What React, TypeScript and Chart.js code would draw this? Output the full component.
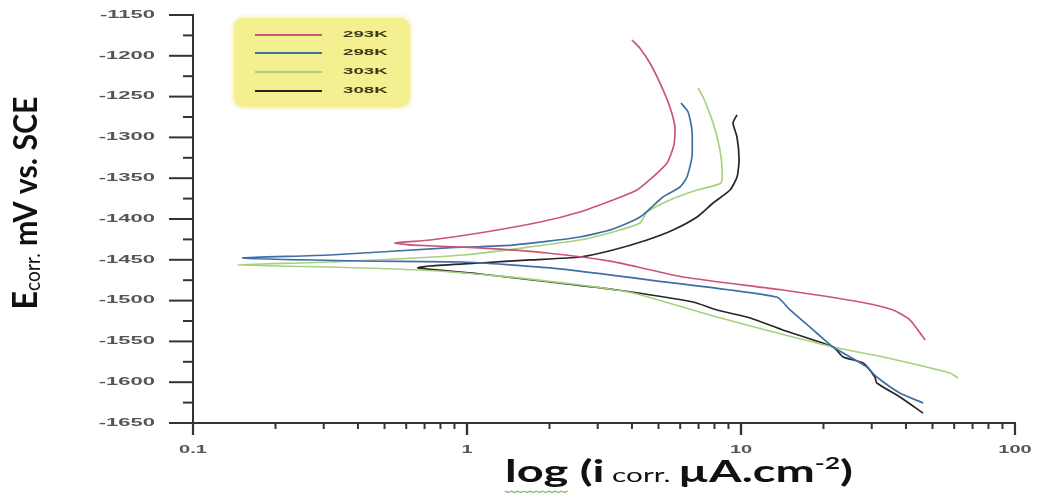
import React, { useEffect, useRef } from "react";
import { Chart, registerables } from "chart.js";

Chart.register(...registerables);

// Potentiodynamic polarization curves: current density (µA/cm²) vs. potential (mV vs. SCE)
const seriesNames = ["293K", "298K", "303K", "308K"];
const seriesColors = ["#cc5479", "#3f6fa3", "#a6d27f", "#262626"];

const i293 = [4.0, 4.27, 4.65, 5.06, 5.5, 5.74, 5.69, 5.37, 4.77, 4.17, 3.41, 2.58, 1.85, 1.11, 0.733, 0.546, 0.635, 1.11, 1.96, 3.41, 6.14, 14.2, 27.2, 35.9, 41.4, 47.0];
const e293 = [-1180.6, -1190.4, -1208.8, -1233.3, -1262.7, -1287.3, -1309.3, -1331.4, -1348.5, -1364.5, -1376.7, -1391.4, -1403.7, -1417.2, -1425.7, -1429.4, -1431.9, -1435.5, -1441.7, -1452.3, -1471.1, -1487.0, -1501.7, -1511.5, -1523.8, -1548.3];

const i298 = [6.04, 6.41, 6.62, 6.62, 6.35, 5.99, 5.19, 4.28, 3.41, 2.585, 1.472, 0.845, 0.316, 0.152, 0.417, 0.966, 2.01, 4.66, 13.5, 15.1, 18.9, 21.7, 28.8, 31.3, 38.0, 46.2];
const e298 = [-1257.8, -1268.9, -1290.9, -1324.0, -1348.5, -1360.8, -1373.0, -1397.6, -1412.3, -1422.1, -1431.9, -1435.5, -1444.1, -1447.8, -1451.5, -1452.7, -1460.0, -1474.8, -1495.6, -1511.5, -1539.7, -1556.9, -1581.4, -1593.6, -1613.2, -1625.5];

const i303 = [6.97, 7.27, 7.91, 8.38, 8.53, 8.45, 6.91, 5.51, 4.54, 4.28, 3.41, 2.585, 0.966, 0.316, 0.145, 0.316, 0.673, 1.32, 2.585, 4.03, 8.17, 21.7, 33.0, 57.9, 61.9];
const e303 = [-1239.5, -1250.5, -1282.4, -1315.4, -1340.0, -1355.9, -1364.5, -1376.7, -1391.4, -1404.9, -1415.9, -1425.7, -1444.1, -1452.7, -1456.4, -1458.8, -1462.5, -1469.9, -1480.9, -1490.7, -1520.1, -1556.9, -1569.1, -1588.7, -1594.9];

const i308 = [9.67, 9.35, 9.67, 9.84, 9.67, 9.12, 7.91, 6.91, 5.65, 4.54, 3.41, 2.585, 1.7, 1.115, 0.733, 0.662, 1.115, 2.01, 3.53, 6.68, 8.17, 10.8, 14.2, 21.7, 23.6, 27.9, 30.8, 31.3, 38.0, 46.2];
const e308 = [-1272.5, -1282.4, -1299.5, -1327.7, -1348.5, -1364.5, -1380.4, -1397.6, -1413.5, -1425.7, -1438.0, -1446.6, -1450.2, -1453.9, -1457.6, -1460.0, -1467.4, -1477.2, -1487.0, -1501.7, -1511.5, -1521.3, -1536.0, -1556.9, -1569.1, -1576.5, -1593.6, -1601.0, -1618.1, -1637.8];

const currents = [i293, i298, i303, i308];
const potentials = [e293, e298, e303, e308];

// Axis ranges and tick values
const xMin = 0.1;
const xMax = 100;
const xMajorTicks = [0.1, 1, 10, 100];
const xTickLabels = ["0.1", "1", "10", "100"];
const yMin = -1650;
const yMax = -1150;
const yMajorStep = 50;
const yMinorStep = 25;

const AXIS_COLOR = "#333333";
const TICK_TEXT = "#555555";

type Run = { t: string; font: string; dy?: number };

function runsWidth(ctx: CanvasRenderingContext2D, runs: Run[]) {
  let w = 0;
  for (const r of runs) {
    ctx.font = r.font;
    w += ctx.measureText(r.t).width;
  }
  return w;
}

// Draws a run of mixed-font text centred on 0 along the current baseline (y = 0)
function drawRunsCentered(ctx: CanvasRenderingContext2D, runs: Run[]) {
  let x = -runsWidth(ctx, runs) / 2;
  ctx.textAlign = "left";
  ctx.textBaseline = "alphabetic";
  for (const r of runs) {
    ctx.font = r.font;
    ctx.fillText(r.t, x, r.dy || 0);
    x += ctx.measureText(r.t).width;
  }
  return -runsWidth(ctx, runs) / 2;
}

// Wide, squat tick lettering
function stretchedText(
  ctx: CanvasRenderingContext2D,
  text: string,
  x: number,
  y: number,
  align: CanvasTextAlign,
  font: string,
  sx: number
) {
  ctx.save();
  ctx.translate(x, y);
  ctx.scale(sx, 1);
  ctx.font = font;
  ctx.textAlign = align;
  ctx.textBaseline = "middle";
  ctx.fillText(text, 0, 0);
  ctx.restore();
}

const decor = {
  id: "decor",
  beforeDatasetsDraw(chart: any) {
    const ctx: CanvasRenderingContext2D = chart.ctx;
    // legend panel
    ctx.save();
    ctx.shadowColor = "rgba(235,228,110,0.9)";
    ctx.shadowBlur = 5;
    ctx.fillStyle = "#f5f08f";
    ctx.beginPath();
    (ctx as any).roundRect(234, 18, 176, 89, 9);
    ctx.fill();
    ctx.restore();
  },
  afterDraw(chart: any) {
    const ctx: CanvasRenderingContext2D = chart.ctx;
    const xs = chart.scales.x;
    const ys = chart.scales.y;
    const { left, right, top, bottom } = chart.chartArea;

    ctx.save();
    ctx.strokeStyle = AXIS_COLOR;
    ctx.lineCap = "butt";

    // y axis line and ticks
    ctx.lineWidth = 2;
    ctx.beginPath();
    ctx.moveTo(left, top - 1);
    ctx.lineTo(left, bottom + 12);
    ctx.stroke();
    for (let v = yMin; v <= yMax + 0.01; v += yMinorStep) {
      const py = ys.getPixelForValue(v);
      const major = Math.abs((v - yMin) % yMajorStep) < 0.01;
      ctx.beginPath();
      ctx.moveTo(left, py);
      ctx.lineTo(left - (major ? 24 : 10), py);
      ctx.stroke();
    }

    // x axis line and ticks
    ctx.beginPath();
    ctx.moveTo(left, bottom);
    ctx.lineTo(right + 1, bottom);
    ctx.stroke();
    for (let d = -1; d <= 1; d++) {
      for (let k = 1; k <= 10; k++) {
        const v = k * Math.pow(10, d);
        if (v < xMin || v > xMax) continue;
        const px = xs.getPixelForValue(v);
        const major = k === 1 || k === 10;
        ctx.lineWidth = major ? 2.2 : 2;
        ctx.beginPath();
        ctx.moveTo(px, bottom);
        ctx.lineTo(px, bottom + (major ? 12 : 6));
        ctx.stroke();
      }
    }

    // tick labels
    ctx.fillStyle = TICK_TEXT;
    for (let v = yMin; v <= yMax + 0.01; v += yMajorStep) {
      stretchedText(ctx, String(v), 155, ys.getPixelForValue(v), "right", "bold 10px 'Liberation Sans'", 2.2);
    }
    xMajorTicks.forEach((v, k) => {
      stretchedText(ctx, xTickLabels[k], xs.getPixelForValue(v), 450, "center", "bold 10px 'Liberation Sans'", 2.0);
    });

    // legend entries
    seriesNames.forEach((name, k) => {
      const ly = [35, 53, 72, 91][k];
      ctx.strokeStyle = seriesColors[k];
      ctx.lineWidth = 2;
      ctx.beginPath();
      ctx.moveTo(255, ly);
      ctx.lineTo(322, ly);
      ctx.stroke();
      ctx.fillStyle = "#3a3a1a";
      stretchedText(ctx, name, 343, ly, "left", "bold 8.5px 'Liberation Sans'", 2.2);
    });

    // x axis title
    ctx.fillStyle = "#111111";
    const xTitle: Run[] = [
      { t: "log", font: "bold 30px Lato" },
      { t: " (i", font: "bold 30px Lato" },
      { t: " corr. ", font: "19px Lato" },
      { t: "µA.cm", font: "bold 30px Lato" },
      { t: "-2", font: "bold 17px Lato", dy: -13 },
      { t: ")", font: "bold 30px Lato" },
    ];
    const xsx = 348 / (runsWidth(ctx, xTitle) || 1);
    ctx.save();
    ctx.translate(679, 482);
    ctx.scale(xsx, 1);
    const start = drawRunsCentered(ctx, xTitle);
    ctx.font = "bold 30px Lato";
    const logW = ctx.measureText("log").width;
    // spell-check style squiggle under "log"
    ctx.strokeStyle = "#7fbf5f";
    ctx.lineWidth = 1;
    ctx.beginPath();
    for (let x = 0; x <= logW; x += 2) {
      const yy = 9 + (Math.floor(x / 2) % 2 === 0 ? 0 : 1.5);
      if (x === 0) ctx.moveTo(start + x, yy);
      else ctx.lineTo(start + x, yy);
    }
    ctx.stroke();
    ctx.restore();

    // y axis title
    const yTitle: Run[] = [
      { t: "E", font: "bold 32px Lato" },
      { t: "corr.", font: "19px Lato", dy: 3 },
      { t: " mV vs. SCE", font: "bold 30px Lato" },
    ];
    const ysx = 213 / (runsWidth(ctx, yTitle) || 1);
    ctx.save();
    ctx.translate(37, 203);
    ctx.rotate(-Math.PI / 2);
    ctx.scale(ysx, 1.08);
    drawRunsCentered(ctx, yTitle);
    ctx.restore();

    ctx.restore();
  },
};

export default function App() {
  const ref = useRef<HTMLCanvasElement>(null);

  useEffect(() => {
    const canvas = ref.current;
    if (!canvas) return;
    const chart = new Chart(canvas, {
      type: "line",
      data: {
        datasets: seriesNames.map((name, k) => ({
          label: name,
          data: currents[k].map((v, j) => ({ x: v, y: potentials[k][j] })),
          borderColor: seriesColors[k],
          backgroundColor: seriesColors[k],
          borderWidth: 1.7,
          pointRadius: 0,
          tension: 0.2,
          fill: false,
        })),
      },
      options: {
        responsive: false,
        animation: false,
        devicePixelRatio: 1,
        events: [],
        layout: { padding: { left: 193, top: 15, right: 23, bottom: 72 } },
        scales: {
          x: { type: "logarithmic", min: xMin, max: xMax, display: false },
          y: { type: "linear", min: yMin, max: yMax, display: false },
        },
        plugins: {
          legend: { display: false },
          tooltip: { enabled: false },
        },
      },
      plugins: [decor],
    });
    return () => chart.destroy();
  }, []);

  return (
    <div style={{ position: "absolute", left: 0, top: 0, width: 1038, height: 495, background: "#ffffff" }}>
      <canvas ref={ref} width={1038} height={495} style={{ display: "block", width: 1038, height: 495 }} />
    </div>
  );
}
